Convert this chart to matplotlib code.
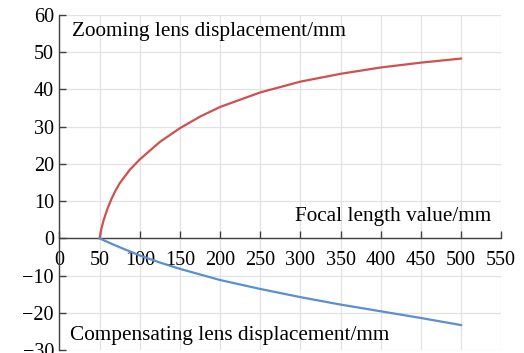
import matplotlib
matplotlib.use("Agg")
import matplotlib.pyplot as plt

# focal length values (mm) and lens displacements (mm)
zoom_focal = [50, 52, 55, 60, 65, 70, 75, 87.5, 100, 125, 150, 175, 200,
              250, 300, 350, 400, 450, 500]
zoom_disp = [0, 2.4, 4.9, 8.1, 10.7, 12.9, 14.8, 18.4, 21.2, 25.9, 29.6, 32.7,
             35.3, 39.2, 42.1, 44.2, 45.9, 47.2, 48.3]

comp_focal = [50, 60, 75, 100, 125, 150, 200, 250, 300, 350, 400, 450, 500]
comp_disp = [0, -1.0, -2.4, -4.6, -6.5, -8.2, -11.2, -13.6, -15.8, -17.8,
             -19.6, -21.4, -23.3]

x_ticks = list(range(0, 551, 50))
y_ticks = list(range(-30, 61, 10))

plt.rcParams['font.family'] = ['Liberation Serif', 'DejaVu Serif']

fig = plt.figure(figsize=(5.24, 3.53), dpi=100)
ax = fig.add_axes([0.1135, 0.0085, 0.843, 0.949])

ax.plot(zoom_focal, zoom_disp, color='#d0504f', lw=1.6, zorder=3)
ax.plot(comp_focal, comp_disp, color='#5a8fd0', lw=1.6, zorder=3)

ax.set_xlim(0, 550)
ax.set_ylim(-30, 60)
ax.set_xticks(x_ticks)
ax.set_yticks(y_ticks)
ax.grid(True, color='#e2e2e2', lw=0.9, zorder=0)
ax.set_axisbelow(True)

# x axis through zero, no box
ax.spines['top'].set_visible(False)
ax.spines['right'].set_visible(False)
ax.spines['bottom'].set_position(('data', 0))
for s in ('left', 'bottom'):
    ax.spines[s].set_color('#404040')
    ax.spines[s].set_linewidth(1.0)

ax.tick_params(axis='both', direction='in', length=5, width=1.0,
               color='#404040', labelsize=14.5, labelcolor='black')
ax.tick_params(axis='x', pad=9)
ax.tick_params(axis='y', pad=4)

ax.text(15, 54.3, 'Zooming lens displacement/mm', fontsize=15.3,
        va='baseline', ha='left')
ax.text(537, 4.6, 'Focal length value/mm', fontsize=15.3,
        va='baseline', ha='right')
ax.text(12.5, -27.4, 'Compensating lens displacement/mm', fontsize=15.3,
        va='baseline', ha='left')

fig.savefig('out.png', dpi=100)
